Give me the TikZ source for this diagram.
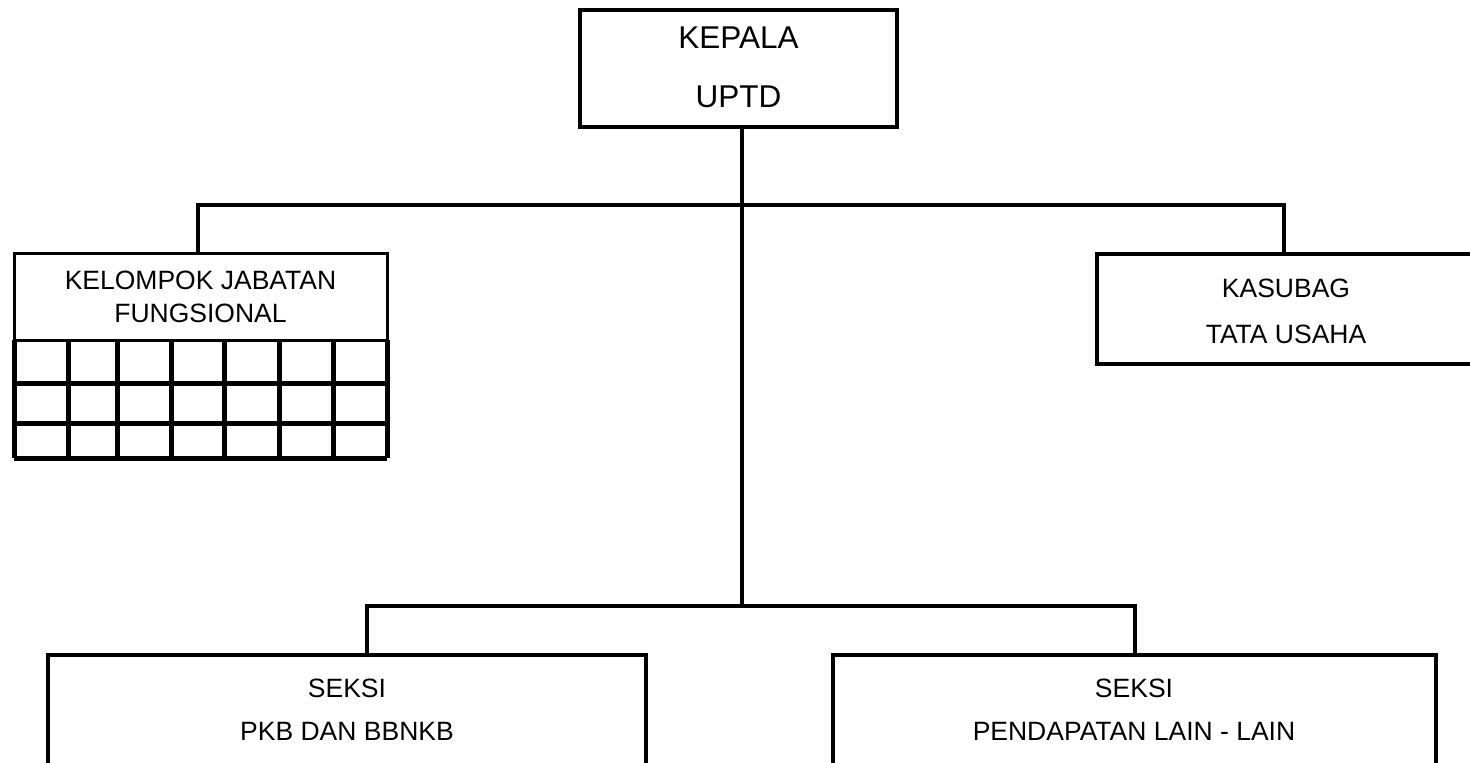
\documentclass[tikz,border=0pt]{standalone}
\usepackage{fontspec}
\setmainfont{Liberation Sans}
\tikzset{
  box/.style={draw, line width=4pt, rectangle, inner sep=0pt},
  thinbox/.style={draw, line width=3pt, rectangle, inner sep=0pt},
  conn/.style={line width=4pt},
  gridline/.style={line width=5pt},
  lbl/.style={anchor=base, inner sep=0pt, font=\fontsize{26.5}{30}\selectfont},
  biglbl/.style={anchor=base, inner sep=0pt, font=\fontsize{31.5}{36}\selectfont},
}
\begin{document}
\begin{tikzpicture}[x=1pt,y=-1pt]
\useasboundingbox (0,0) rectangle (1470,763);
\fill[white] (0,0) rectangle (1470,763);
\clip (0,0) rectangle (1470,763);

% boxes
\node[box, minimum width=317pt, minimum height=117pt] (kepala) at (738.5,68.5) {};
\node[thinbox, minimum width=373pt, minimum height=87pt] (jf) at (200.5,296.5) {};
\node[box, minimum width=375pt, minimum height=110pt] (kasubag) at (1284.5,309) {};
\node[box, minimum width=598pt, minimum height=165pt] (pkb) at (347,737.5) {};
\node[box, minimum width=603pt, minimum height=165pt] (pdl) at (1134.5,737.5) {};

% grid of the functional group
\foreach \x in {14,68,117,171,224,279,333,387}
  \draw[gridline] (\x,340) -- (\x,458);
\foreach \y in {383,423,458}
  \draw[gridline] (14,\y) -- (387,\y);

% labels
\node[biglbl] (t1) at (738.5,48) {KEPALA};
\node[biglbl] (t2) at (738.5,107) {UPTD};
\node[lbl] (t3) at (200.5,289) {KELOMPOK JABATAN};
\node[lbl] (t4) at (200.5,322) {FUNGSIONAL};
\node[lbl] (t5) at (1286,297) {KASUBAG};
\node[lbl] (t6) at (1286,343) {TATA USAHA};
\node[lbl] (t7) at (347,697) {SEKSI};
\node[lbl] (t8) at (347,740) {PKB DAN BBNKB};
\node[lbl] (t9) at (1134,697) {SEKSI};
\node[lbl] (t10) at (1134,740) {PENDAPATAN LAIN - LAIN};

% connectors
\coordinate (vtop) at (742,127);
\coordinate (vbot) at (742,606);
\draw[conn] (vtop) -- (vbot);
\coordinate (a1) at (198,205);
\coordinate (a2) at (1284,205);
\draw[conn] (jf.north -| a1) -- (a1) -- (a2) -- (a2 |- kasubag.north);
\coordinate (c1) at (367,606);
\coordinate (c2) at (1135,606);
\draw[conn] (c1 |- pkb.north) -- (c1) -- (c2) -- (c2 |- pdl.north);
\end{tikzpicture}
\end{document}
